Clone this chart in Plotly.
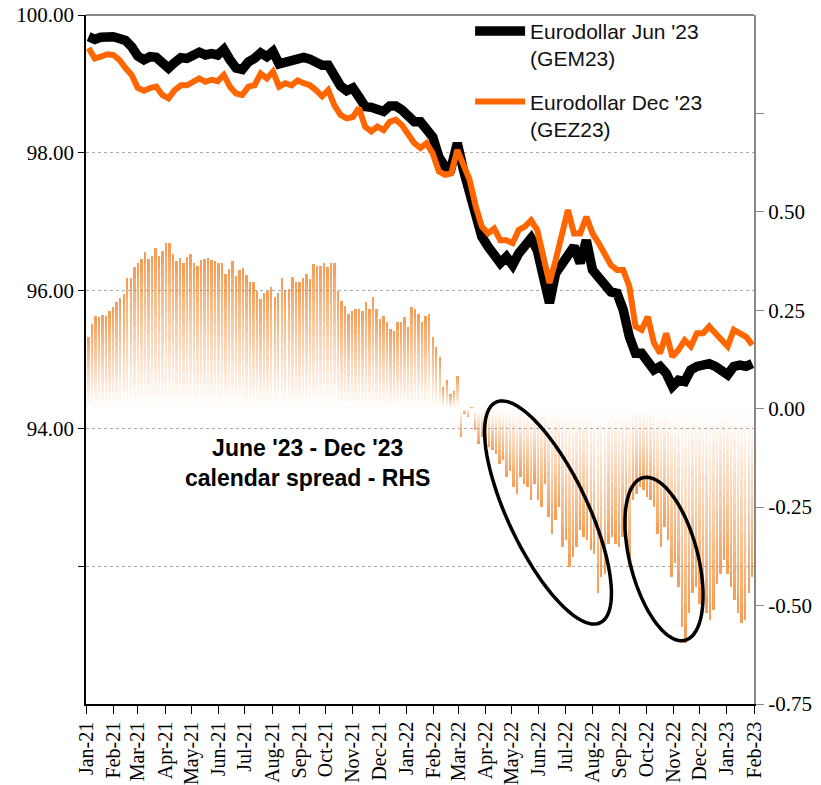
import numpy as np
import pandas as pd
import plotly.graph_objects as go

# weekly closes, first Monday of Jan-21 to end of Jan-23
week_dates = pd.date_range('2021-01-04', '2023-01-30', freq='7D')

# Eurodollar Jun '23 (GEM23)
jun_vals = [99.685,99.647,99.676,99.695,99.685,99.66,99.63,99.54,99.405,99.35,
            99.395,99.385,99.31,99.23,99.31,99.38,99.37,99.43,99.46,99.42,
            99.44,99.42,99.50,99.35,99.23,99.21,99.32,99.37,99.45,99.395,
            99.47,99.29,99.31,99.34,99.385,99.385,99.36,99.32,99.27,99.27,
            99.115,98.97,98.90,98.94,98.81,98.67,98.66,98.63,98.60,98.68,
            98.68,98.62,98.53,98.45,98.45,98.36,98.23,97.94,97.80,97.78,
            98.14,97.75,97.46,97.07,96.78,96.64,96.52,96.40,96.49,96.37,
            96.54,96.64,96.76,96.59,96.15,95.82,96.25,96.37,96.49,96.64,
            96.40,96.73,96.30,96.18,96.06,95.98,95.96,95.72,95.33,95.09,
            95.09,94.94,94.85,94.90,94.80,94.61,94.70,94.68,94.85,94.90,
            94.92,94.94,94.90,94.85,94.78,94.90,94.92,94.90,94.94]

# Eurodollar Dec '23 (GEZ23)
dec_vals = [99.52,99.37,99.395,99.43,99.42,99.35,99.23,99.13,98.94,98.90,
            98.94,98.96,98.84,98.79,98.91,98.98,98.98,99.03,99.08,99.03,
            99.06,99.04,99.13,98.96,98.86,98.84,98.96,98.98,99.15,99.08,
            99.18,98.96,99.01,98.98,99.05,99.01,98.98,98.91,98.82,98.91,
            98.69,98.55,98.50,98.52,98.65,98.38,98.31,98.38,98.33,98.45,
            98.48,98.40,98.26,98.14,98.07,98.14,97.99,97.73,97.68,97.70,
            98.04,97.80,97.61,97.22,96.93,96.83,96.90,96.73,96.73,96.69,
            96.88,96.93,97.02,96.88,96.49,96.11,96.44,96.83,97.17,96.83,
            96.83,97.07,96.83,96.69,96.54,96.37,96.30,96.30,96.06,95.48,
            95.43,95.62,95.24,95.09,95.38,95.04,95.14,95.28,95.19,95.38,
            95.38,95.48,95.38,95.28,95.19,95.43,95.38,95.33,95.21]

# June '23 - Dec '23 calendar spread (RHS), every 4 days
spread_dates = pd.date_range('2021-01-04', '2023-01-30', freq='4D')
spread_vals = [0.181,0.215,0.236,0.232,0.238,0.236,0.249,0.259,0.27,0.281,
               0.291,0.333,0.333,0.36,0.371,0.380,0.399,0.38,0.388,0.408,
               0.388,0.40,0.42,0.421,0.394,0.376,0.383,0.369,0.386,0.393,
               0.371,0.363,0.378,0.38,0.383,0.378,0.374,0.369,0.371,0.342,
               0.355,0.376,0.338,0.352,0.357,0.34,0.321,0.321,0.30,0.279,
               0.295,0.30,0.308,0.283,0.295,0.332,0.301,0.304,0.335,0.321,
               0.321,0.333,0.342,0.329,0.367,0.363,0.363,0.371,0.361,0.371,
               0.371,0.30,0.274,0.262,0.241,0.249,0.253,0.253,0.249,0.27,
               0.253,0.283,0.253,0.228,0.236,0.219,0.203,0.198,0.219,0.219,
               0.232,0.207,0.259,0.253,0.241,0.219,0.236,0.241,0.181,0.156,
               0.131,0.055,0.072,0.038,0.046,0.084,-0.072,-0.013,-0.022,0.004,
               -0.055,-0.089,-0.072,-0.106,-0.098,-0.106,-0.114,-0.140,-0.131,-0.174,
               -0.157,-0.199,-0.216,-0.174,-0.191,-0.199,-0.233,-0.19,-0.233,-0.25,
               -0.191,-0.275,-0.317,-0.283,-0.25,-0.351,-0.334,-0.402,-0.377,-0.351,
               -0.309,-0.326,-0.334,-0.36,-0.368,-0.469,-0.427,-0.419,-0.343,-0.326,
               -0.343,-0.351,-0.326,-0.30,-0.402,-0.233,-0.216,-0.199,-0.207,-0.224,
               -0.233,-0.25,-0.317,-0.351,-0.30,-0.334,-0.427,-0.393,-0.453,-0.554,
               -0.596,-0.52,-0.469,-0.453,-0.495,-0.486,-0.52,-0.537,-0.512,-0.444,
               -0.419,-0.385,-0.419,-0.453,-0.486,-0.52,-0.545,-0.537,-0.469,-0.427]

fig = go.Figure()

# spread bars fading out toward zero: stacked slices with rising opacity
spread = np.array(spread_vals)
n_slices = 12
for k in range(n_slices):
    alpha = 0.8 * ((k + 0.5) / n_slices) ** 1.1
    fig.add_trace(go.Bar(x=spread_dates, y=spread / n_slices, base=spread * k / n_slices,
                         width=2.8 * 86400000, marker_color=f'rgba(242,130,40,{alpha:.3f})',
                         marker_line_width=0, yaxis='y', showlegend=False, hoverinfo='skip'))

fig.add_trace(go.Scatter(x=week_dates, y=jun_vals, mode='lines', name="Eurodollar Jun '23<br>(GEM23)",
                         line=dict(color='black', width=9.5), yaxis='y2', legendgroup='a'))
fig.add_trace(go.Scatter(x=week_dates, y=dec_vals, mode='lines', name="Eurodollar Dec '23<br>(GEZ23)",
                         line=dict(color='#FF6600', width=6), yaxis='y2', legendgroup='b'))

# ellipses around the spread moves (pixel geometry -> paper coords)
px0, px1, py0, py1 = 86, 754, 15, 704
def ellipse_path(cx, cy, a, b, ang):
    t = np.linspace(0, 2 * np.pi, 90)
    th = np.radians(ang)
    xs = cx + a * np.cos(th) * np.cos(t) - b * np.sin(th) * np.sin(t)
    ys = cy + a * np.sin(th) * np.cos(t) + b * np.cos(th) * np.sin(t)
    xp = (xs - px0) / (px1 - px0)
    yp = (py1 - ys) / (py1 - py0)
    return 'M ' + ' L '.join(f'{x:.4f},{y:.4f}' for x, y in zip(xp, yp)) + ' Z'

shapes = [
    dict(type='path', xref='paper', yref='paper', path=ellipse_path(548, 512.5, 122, 40, 64.7),
         line=dict(color='black', width=3.5)),
    dict(type='path', xref='paper', yref='paper', path=ellipse_path(664, 559, 84, 34, 75.5),
         line=dict(color='black', width=3.5)),
    dict(type='line', xref='paper', yref='paper', x0=0, x1=1, y0=1, y1=1,
         line=dict(color='#888888', width=2)),
]

fig.update_layout(
    width=821, height=785,
    margin=dict(l=86, r=67, t=15, b=81, autoexpand=False),
    plot_bgcolor='white', paper_bgcolor='white',
    barmode='overlay', bargap=0,
    font=dict(family='Liberation Serif, Times New Roman, serif', size=20, color='black'),
    shapes=shapes,
    showlegend=True,
    legend=dict(x=0.575, y=1.006, xanchor='left', yanchor='top', bgcolor='rgba(0,0,0,0)', valign='top',
                font=dict(family='Liberation Sans, Arial, sans-serif', size=21, color='#111111'),
                tracegroupgap=13, itemwidth=50),
    annotations=[dict(text="June '23 - Dec '23<br>calendar spread - RHS", xref='paper', yref='paper',
                      x=0.331, y=0.35, xanchor='center', yanchor='middle', showarrow=False, align='center',
                      font=dict(family='Liberation Sans, Arial, sans-serif', size=23, color='black', weight='bold'))],
    xaxis=dict(type='date', range=['2021-01-01', '2023-02-01'], dtick='M1', tick0='2021-01-01',
               tickformat='%b-%y', tickangle=-90, ticks='outside', ticklen=8, tickcolor='black',
               showline=True, linecolor='black', linewidth=1.5, showgrid=False, automargin=False,
               ticklabeloverflow='allow', tickfont=dict(size=20)),
    yaxis=dict(side='right', range=[-0.75, 1.0],
               tickvals=[-0.75, -0.5, -0.25, 0, 0.25, 0.5, 0.75],
               ticktext=['-0.75', '-0.50', '-0.25', '0.00', '0.25', '0.50', ''],
               ticks='outside', ticklen=8, tickcolor='#888888', showline=True, linecolor='#888888',
               linewidth=2, showgrid=False, zeroline=False, automargin=False,
               ticklabeloverflow='allow', tickfont=dict(size=21)),
    yaxis2=dict(side='left', overlaying='y', range=[90, 100],
                tickvals=[92, 94, 96, 98, 100], ticktext=['', '94.00', '96.00', '98.00', '100.00'],
                ticks='outside', ticklen=6, tickcolor='black', showline=True, linecolor='black',
                linewidth=1.5, showgrid=True, gridcolor='#aaaaaa', griddash='dot', gridwidth=1,
                zeroline=False, automargin=False, ticklabeloverflow='allow', tickfont=dict(size=21)),
)

# page body margin off so the 821x785 figure sits exactly in the window
fig.write_html("out.html", config={'displayModeBar': False},
               post_script="document.body.style.margin='0';document.body.style.overflow='hidden';")
